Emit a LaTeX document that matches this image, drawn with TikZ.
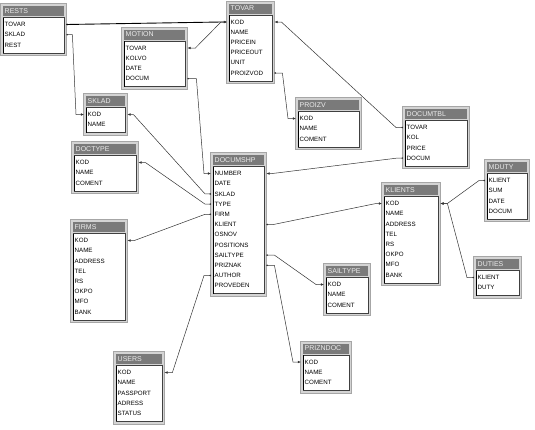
\documentclass[tikz,border=0pt]{standalone}
\usepackage{fontspec}
\setmainfont{Liberation Sans}
\usetikzlibrary{arrows.meta,calc}
\definecolor{titlegray}{HTML}{7A7A7A}
\definecolor{framegray}{HTML}{D4D4D4}
\tikzset{
  fieldtext/.style={anchor=west, inner xsep=3.5pt, inner ysep=0pt, align=left,
    font=\fontsize{6.2}{7}\selectfont, text=black},
  titletext/.style={anchor=west, inner xsep=1.5pt, inner ysep=0pt,
    font=\fontsize{7}{8}\selectfont, text=white!92!black},
  fk/.style={draw=black!80, line width=0.5pt, {Circle[length=1.5pt]}-{Latex[length=3.2pt,width=2.6pt]}},
  fkboth/.style={draw=black!80, line width=0.5pt, {Latex[length=3.2pt,width=2.6pt]}-{Latex[length=3.2pt,width=2.6pt]}}
}
% #1 name, #2 left, #3 right, #4 title top, #5 number of rows, #6 fields
\newcommand{\dbtable}[6]{%
  \pgfmathsetmacro{\tB}{#4+18.5+(#5-1)*10.2+8}%
  \pgfmathsetmacro{\tW}{#3-#2-3}%
  \filldraw[fill=framegray, draw=gray!70, line width=0.4pt] ({#2-2.5},{#4-2.5}) rectangle ({#3+2.5},{\tB+2.5});
  \fill[titlegray] (#2,#4) rectangle (#3,{#4+10});
  \filldraw[fill=white, draw=black!75, line width=0.5pt] (#2,{#4+11.5}) rectangle (#3,\tB);
  \draw[black, line width=0.8pt] (#2,{#4+11.5}) -- (#2,\tB);
  \node[titletext] (#1) at (#2,{#4+5}) {#1};
  \foreach \f [count=\i] in {#6} {
    \node[fieldtext, text width=\tW pt] (#1-\f) at ({#2-2},{#4+18.5+(\i-1)*10.2}) {\f};
  }%
}
\begin{document}
\begin{tikzpicture}[x=1pt,y=-1pt]
\useasboundingbox[fill=white] (0,0) rectangle (535,429);

\dbtable{RESTS}{3}{64}{6}{3}{TOVAR,SKLAD,REST}
\dbtable{TOVAR}{229}{272}{3.5}{6}{KOD,NAME,PRICEIN,PRICEOUT,UNIT,PROIZVOD}
\dbtable{MOTION}{124}{185}{29.5}{4}{TOVAR,KOLVO,DATE,DOCUM}
\dbtable{SKLAD}{86}{125}{96}{2}{KOD,NAME}
\dbtable{PROIZV}{298}{359}{100}{3}{KOD,NAME,COMENT}
\dbtable{DOCUMTBL}{405}{467}{109}{4}{TOVAR,KOL,PRICE,DOCUM}
\dbtable{DOCTYPE}{74}{136}{144}{3}{KOD,NAME,COMENT}
\dbtable{DOCUMSHP}{213}{264}{155}{12}{NUMBER,DATE,SKLAD,TYPE,FIRM,KLIENT,OSNOV,POSITIONS,SAILTYPE,PRIZNAK,AUTHOR,PROVEDEN}
\dbtable{MDUTY}{487}{527}{162}{4}{KLIENT,SUM,DATE,DOCUM}
\dbtable{KLIENTS}{384}{438}{185}{8}{KOD,NAME,ADDRESS,TEL,RS,OKPO,MFO,BANK}
\dbtable{FIRMS}{73}{125}{222}{8}{KOD,NAME,ADDRESS,TEL,RS,OKPO,MFO,BANK}
\dbtable{DUTIES}{476}{519}{259}{2}{KLIENT,DUTY}
\dbtable{SAILTYPE}{326}{368}{266}{3}{KOD,NAME,COMENT}
\dbtable{PRIZNDOC}{303}{349}{343.5}{3}{KOD,NAME,COMENT}
\dbtable{USERS}{116}{162}{354}{5}{KOD,NAME,PASSPORT,ADRESS,STATUS}

% connectors
\draw[fk, line width=0.9pt, draw=black] (RESTS-TOVAR.east) -- ($(TOVAR-KOD.west)+(-6,0)$) -- (TOVAR-KOD.west);
\draw[fkboth] (MOTION-TOVAR.east) -- ++(8,0) -- ($(TOVAR-KOD.west)+(-6,0)$) -- (TOVAR-KOD.west);
\draw[fk] (RESTS-SKLAD.east) -- ++(6,0) -- ($(SKLAD-KOD.west)+(-8,0)$) -- (SKLAD-KOD.west);
\draw[fk] (DOCUMSHP-SKLAD.west) -- ++(-6,0) -- ($(SKLAD-KOD.east)+(6,0)$) -- (SKLAD-KOD.east);
\draw[fk] (DOCUMSHP-TYPE.west) -- ++(-6,0) -- ($(DOCTYPE-KOD.east)+(7,0)$) -- (DOCTYPE-KOD.east);
\draw[fk] (DOCUMSHP-FIRM.west) -- ++(-6,0) -- ($(FIRMS-KOD.east)+(7,0)$) -- (FIRMS-KOD.east);
\draw[fk] (MOTION-DOCUM.east) -- ++(9,0) -- ($(DOCUMSHP-NUMBER.west)+(-7,0)$) -- (DOCUMSHP-NUMBER.west);
\draw[fk] (DOCUMTBL-DOCUM.west) -- ++(-6,0) -- ($(DOCUMSHP-NUMBER.east)+(6,0)$) -- (DOCUMSHP-NUMBER.east);
\draw[fk] (DOCUMTBL-TOVAR.west) -- ++(-7,0) -- ($(TOVAR-KOD.east)+(7,0)$) -- (TOVAR-KOD.east);
\draw[fk] (TOVAR-PROIZVOD.east) -- ++(8,0) -- ($(PROIZV-KOD.west)+(-8,0)$) -- (PROIZV-KOD.west);
\draw[fk] (DOCUMSHP-KLIENT.east) -- ++(7,0) -- ($(KLIENTS-KOD.west)+(-6,0)$) -- (KLIENTS-KOD.west);
\draw[fk] (MDUTY-KLIENT.west) -- ++(-6,0) -- ($(KLIENTS-KOD.east)+(7,0)$) -- (KLIENTS-KOD.east);
\draw[fk] (DUTIES-KLIENT.west) -- ++(-7,0) -- ($(KLIENTS-KOD.east)+(7,0)$) -- (KLIENTS-KOD.east);
\draw[fk] (DOCUMSHP-SAILTYPE.east) -- ++(8,0) -- ($(SAILTYPE-KOD.west)+(-8,0)$) -- (SAILTYPE-KOD.west);
\draw[fk] (DOCUMSHP-PRIZNAK.east) -- ++(8,0) -- ($(PRIZNDOC-KOD.west)+(-8,0)$) -- (PRIZNDOC-KOD.west);
\draw[fk] (DOCUMSHP-AUTHOR.west) -- ++(-7,0) -- ($(USERS-KOD.east)+(8,0)$) -- (USERS-KOD.east);
\end{tikzpicture}
\end{document}
